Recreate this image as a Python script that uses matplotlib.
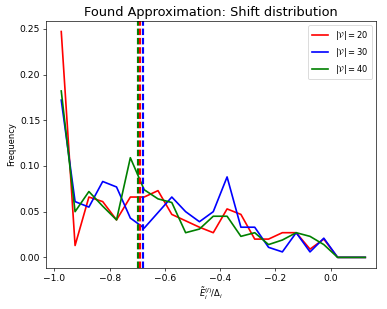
import numpy as np
import matplotlib
matplotlib.use("Agg")
import matplotlib.pyplot as plt

# bin centres of the shift distribution
shift = [-0.975, -0.925, -0.875, -0.825, -0.775, -0.725, -0.675, -0.625, -0.575, -0.525,
         -0.475, -0.425, -0.375, -0.325, -0.275, -0.225, -0.175, -0.125, -0.075, -0.025,
         0.025, 0.075, 0.125]

freq_20 = [0.247, 0.013, 0.066, 0.061, 0.041, 0.066, 0.066, 0.073, 0.047, 0.040,
           0.033, 0.027, 0.053, 0.047, 0.020, 0.020, 0.027, 0.027, 0.009, 0.020,
           0.0, 0.0, 0.0]
freq_30 = [0.172, 0.061, 0.055, 0.083, 0.077, 0.043, 0.032, 0.049, 0.066, 0.050,
           0.039, 0.050, 0.088, 0.033, 0.033, 0.011, 0.006, 0.027, 0.006, 0.021,
           0.0, 0.0, 0.0]
freq_40 = [0.182, 0.050, 0.072, 0.056, 0.041, 0.109, 0.074, 0.064, 0.060, 0.027,
           0.031, 0.045, 0.045, 0.023, 0.027, 0.014, 0.019, 0.027, 0.023, 0.014,
           0.0, 0.0, 0.0]

# mean shifts (vertical dashed lines)
mean_20 = -0.690
mean_30 = -0.681
mean_40 = -0.698

labels = [r"$|\mathcal{V}| = 20$", r"$|\mathcal{V}| = 30$", r"$|\mathcal{V}| = 40$"]
colors = ["red", "blue", "green"]

DPI = 60
fig = plt.figure(figsize=(387 / DPI, 309 / DPI), dpi=DPI)
ax = fig.add_axes([0.119, 0.133, 0.852, 0.799])

for f, lab, c in zip([freq_20, freq_30, freq_40], labels, colors):
    ax.plot(shift, f, color=c, label=lab, linewidth=2.0)

for m, c in zip([mean_40, mean_20, mean_30], ["green", "red", "blue"]):
    ax.axvline(m, color=c, linestyle=(0, (3.0, 1.3)), linewidth=2.6)

ax.set_xlim(-1.030, 0.163)
ax.set_ylim(-0.0115, 0.2585)
ax.tick_params(labelsize=11)
ax.set_title("Found Approximation: Shift distribution", fontsize=15.5)
ax.set_xlabel(r"$\tilde{E}_i^{(l)}/\Delta_i$")
ax.set_ylabel("Frequency")
ax.legend(loc="upper right")

fig.savefig("out.png", dpi=DPI)
